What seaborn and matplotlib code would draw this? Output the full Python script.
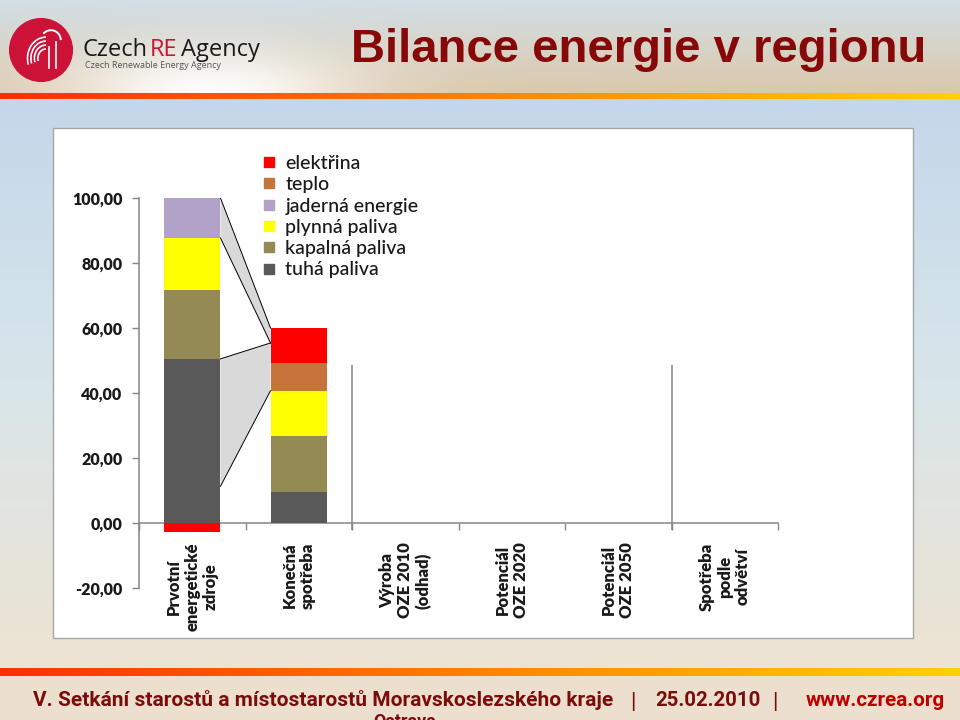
import numpy as np
import matplotlib
matplotlib.use("Agg")
import matplotlib.pyplot as plt
import matplotlib.patches as mpatches
from matplotlib.lines import Line2D
import seaborn as sns

# ---------------- data ----------------
categories = ["Prvotní\nenergetické\nzdroje", "Konečná\nspotřeba", "Výroba\nOZE 2010\n(odhad)",
              "Potenciál\nOZE 2020", "Potenciál\nOZE 2050", "Spotřeba\npodle\nodvětví"]
series = ["tuhá paliva", "kapalná paliva", "plynná paliva", "jaderná energie", "teplo", "elektřina"]
tuha = [50.5, 9.4, 0, 0, 0, 0]
kapalna = [21.3, 17.3, 0, 0, 0, 0]
plynna = [15.9, 14.0, 0, 0, 0, 0]
jaderna = [12.3, 0, 0, 0, 0, 0]
teplo = [0, 8.5, 0, 0, 0, 0]
elektrina = [-2.9, 10.8, 0, 0, 0, 0]
colors = {"tuhá paliva": "#595959", "kapalná paliva": "#948A54", "plynná paliva": "#FFFF00",
          "jaderná energie": "#B3A2C7", "teplo": "#C5733A", "elektřina": "#FF0000"}
# connector wedge levels (bar 1 right edge -> bar 2 left edge)
upper_wedge = [(100.0, 60.0), (87.7, 55.4)]
lower_wedge = [(50.5, 55.4), (11.3, 40.7)]
yticks = [-20, 0, 20, 40, 60, 80, 100]

values = [tuha, kapalna, plynna, jaderna, teplo, elektrina]
BAR_W = 0.53

W, H = 960, 720
fig = plt.figure(figsize=(9.6, 7.2), dpi=100)

def fx(px):
    return px / W

def fy(py):
    return 1 - py / H

# ---------------- background ----------------
bg = fig.add_axes([0, 0, 1, 1], zorder=-10)
bg.set_axis_off()
yy, xx = np.mgrid[0:H, 0:W].astype(float)
img = np.zeros((H, W, 3))
c_top = np.array([0xc4, 0xd7, 0xea]) / 255
c_mid = np.array([0xd8, 0xe6, 0xea]) / 255
c_bot = np.array([0xed, 0xe3, 0xd2]) / 255
t = np.clip((yy - 100) / 560, 0, 1)[..., None]
main = np.where(t < 0.5, c_top + (c_mid - c_top) * (t / 0.5), c_mid + (c_bot - c_mid) * ((t - 0.5) / 0.5))
img[:] = main
hh = np.clip(yy / 93, 0, 1)[..., None]
h_top = np.array([0xd2, 0xdf, 0xe6]) / 255
h_bot = np.array([0xdc, 0xc8, 0xaa]) / 255
header = h_top + (h_bot - h_top) * hh
glare = np.exp(-(((xx - 210) / 150) ** 2 + ((yy - 90) / 45) ** 2))[..., None]
header = header + (1 - header) * glare * 0.95
img[:93] = header[:93]
img[676:] = np.array([0xec, 0xdf, 0xcd]) / 255
sx = (np.arange(W) / W)
def stripe_cols(s):
    c1 = np.array([0xff, 0x2e, 0x00]) / 255
    c2 = np.array([0xff, 0x8a, 0x00]) / 255
    c3 = np.array([0xff, 0xd2, 0x00]) / 255
    s = s[:, None]
    return np.where(s < 0.55, c1 + (c2 - c1) * (s / 0.55), c2 + (c3 - c2) * ((s - 0.55) / 0.45))
sc = stripe_cols(sx)
img[93:99] = sc[None, :, :]
img[668:676] = sc[None, :, :]
bg.imshow(np.clip(img, 0, 1), extent=[0, 1, 0, 1], aspect="auto", transform=bg.transAxes)
bg.set_xlim(0, 1)
bg.set_ylim(0, 1)

panel = mpatches.Rectangle((fx(53), fy(638)), fx(913) - fx(53), fy(128) - fy(638),
                           transform=fig.transFigure, facecolor="white", edgecolor="#a6a6a6",
                           linewidth=1.0, zorder=-5)
fig.patches.append(panel)

# ---------------- logo & title ----------------
logo = fig.add_axes([fx(8), fy(84), fx(66), fy(16) - fy(84)])
logo.set_xlim(-1, 1)
logo.set_ylim(-1, 1)
logo.set_aspect("equal")
logo.set_axis_off()
logo.add_patch(mpatches.Circle((0, 0), 0.95, color="#cc1236"))
for r in [0.35, 0.5, 0.65, 0.8]:
    logo.add_patch(mpatches.Arc((0.15, -0.25), r * 1.4, r * 1.6, theta1=90, theta2=200,
                                color="white", lw=1.2))
logo.plot([0.25, 0.25], [-0.55, 0.1], color="white", lw=1.2)
logo.plot([0.45, 0.45], [-0.55, 0.25], color="white", lw=1.2)
logo.add_patch(mpatches.Arc((0.3, 0.3), 0.6, 0.6, theta1=0, theta2=140, color="white", lw=1.4))

fig.text(fx(82), fy(56), "Czech", fontsize=17, family="Open Sans", color="#1a1a1a", va="baseline")
fig.text(fx(150), fy(56), "RE", fontsize=17, family="Open Sans", color="#cc1236", va="baseline")
fig.text(fx(181), fy(56), "Agency", fontsize=17, family="Open Sans", color="#1a1a1a", va="baseline")
fig.text(fx(85), fy(68), "Czech Renewable Energy Agency", fontsize=6.5, family="Open Sans",
         color="#555555", va="baseline")

fig.text(fx(639), fy(62), "Bilance energie v regionu", fontsize=34, fontweight="bold",
         family="Liberation Sans", color="#860808", ha="center", va="baseline")

# footer (fit each piece to its width in the reference)
renderer = fig.canvas.get_renderer()
ffam = "Roboto"

def fit_text(x_left, target_w, s, color, base=14.0, y=706, ha="left"):
    tx = fig.text(fx(x_left), fy(y), s, fontsize=base, fontweight="bold", family=ffam,
                  color=color, va="baseline", ha=ha)
    w = tx.get_window_extent(renderer).width
    tx.set_fontsize(base * target_w / w)
    return tx

fit_text(33, 579, "V. Setkání starostů a místostarostů Moravskoslezského kraje", "#7a0c0c")
fig.text(fx(633), fy(708), "|", fontsize=16, family=ffam, color="#7a0c0c",
         va="baseline", ha="center")
fit_text(655, 105, "25.02.2010", "#7a0c0c")
fig.text(fx(775), fy(708), "|", fontsize=16, family=ffam, color="#7a0c0c",
         va="baseline", ha="center")
fit_text(806, 140, "www.czrea.org", "#c00000")
fig.text(fx(405), fy(727), "Ostrava", fontsize=13, fontweight="bold", family=ffam,
         color="#7a0c0c", va="baseline", ha="center")

# ---------------- chart ----------------
ax = fig.add_axes([fx(139), fy(588), fx(778) - fx(139), fy(198) - fy(588)])
ax.set_facecolor("none")

n = len(categories)
pos_stack = np.zeros(n)
neg_stack = np.zeros(n)
pos_tops, neg_tops = [], []
for v in values:
    v = np.array(v, dtype=float)
    pos_stack = pos_stack + np.clip(v, 0, None)
    neg_stack = neg_stack + np.clip(v, None, 0)
    pos_tops.append(pos_stack.copy())
    neg_tops.append(neg_stack.copy())

for name, top in reversed(list(zip(series, pos_tops))):
    sns.barplot(x=categories, y=top, order=categories, color=colors[name], saturation=1,
                width=BAR_W, linewidth=0, ax=ax, zorder=3)
for name, bot in reversed(list(zip(series, neg_tops))):
    sns.barplot(x=categories, y=bot, order=categories, color=colors[name], saturation=1,
                width=BAR_W, linewidth=0, ax=ax, zorder=3)

xr, xl = 0 + BAR_W / 2, 1 - BAR_W / 2
for wedge in (upper_wedge, lower_wedge):
    (a1, b1), (a2, b2) = wedge
    ax.fill([xr, xl, xl, xr], [a1, b1, b2, a2], facecolor="#d9d9d9", edgecolor="none", zorder=2)
    ax.plot([xr, xl], [a1, b1], color="black", lw=0.7, zorder=2.5)
    ax.plot([xr, xl], [a2, b2], color="black", lw=0.7, zorder=2.5)

ax.vlines([1.5, 4.5], -2, 48.7, color="#868686", lw=1.1, zorder=1)

ax.set_xlim(-0.5, n - 0.5)
ax.set_ylim(-20, 100)
sns.despine(ax=ax, top=True, right=True)
ax.spines["bottom"].set_position(("data", 0))
for s in ("left", "bottom"):
    ax.spines[s].set_color("#868686")
    ax.spines[s].set_linewidth(1.1)

ax.set_yticks(yticks)
ax.set_yticklabels([f"{v:.2f}".replace(".", ",") for v in yticks], fontsize=11.5,
                   fontweight="heavy", family="Lato", color="#1a1a1a")
ax.tick_params(axis="y", direction="out", length=5, width=1, color="#868686", pad=7)

ax.set_xticks(range(n))
ax.set_xticklabels(categories, rotation=90, ha="center", va="top", multialignment="center",
                   fontsize=12, fontweight="heavy", family="Lato", color="#1a1a1a",
                   linespacing=1.15)
ax.tick_params(axis="x", which="major", length=0, pad=14)
ax.set_xticks(np.arange(-0.5, n, 1.0), minor=True)
ax.tick_params(axis="x", which="minor", direction="out", length=5, width=1, color="#868686")
ax.set_xlabel("")
ax.set_ylabel("")

leg_order = ["elektřina", "teplo", "jaderná energie", "plynná paliva", "kapalná paliva", "tuhá paliva"]
handles = [Line2D([], [], marker="s", linestyle="", markersize=7, color=colors[s]) for s in leg_order]
leg = fig.legend(handles, leg_order, loc="upper left", bbox_to_anchor=(fx(262), fy(155)),
                 frameon=False, borderaxespad=0, borderpad=0, handlelength=0.7,
                 handletextpad=0.5, labelspacing=0.22,
                 prop={"family": "Lato", "size": 14, "weight": "medium"})
for txt in leg.get_texts():
    txt.set_color("#1a1a1a")

fig.savefig("out.png", dpi=100)
